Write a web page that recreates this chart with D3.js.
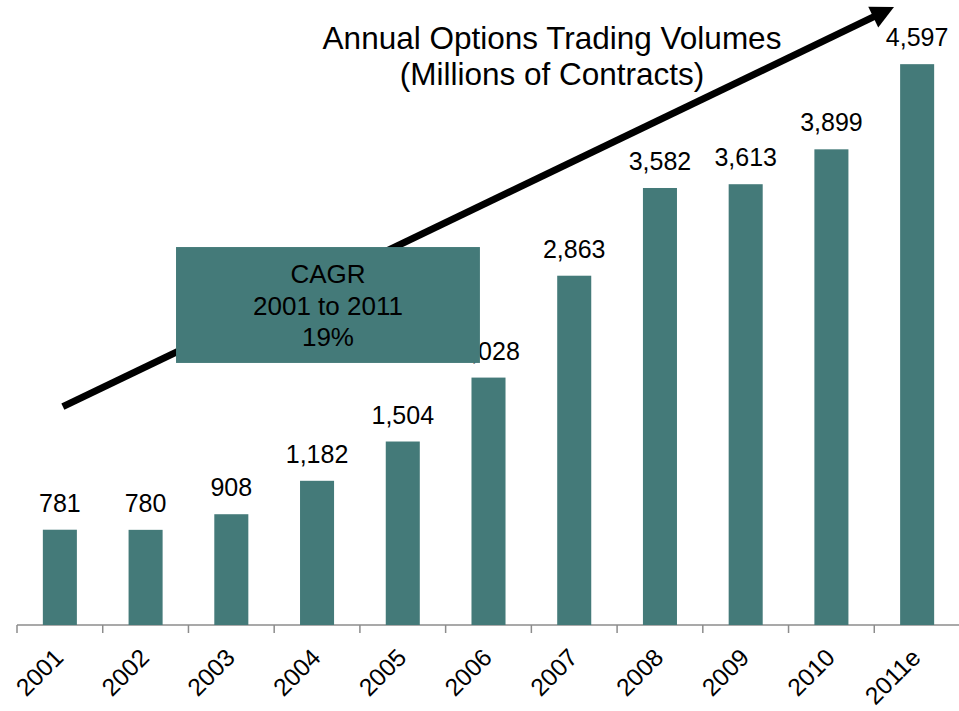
<!DOCTYPE html>
<html>
<head>
<meta charset="utf-8">
<script src="https://cdn.jsdelivr.net/npm/d3@7"></script>
<style>
  body { margin: 0; background: #fff; }
  svg { display: block; font-family: Arial, "Liberation Sans", sans-serif; }
</style>
</head>
<body>
<div id="chart"></div>
<script>
// Chart data
const years = ['2001', '2002', '2003', '2004', '2005', '2006', '2007', '2008', '2009', '2010', '2011e']
const volumes = [781, 780, 908, 1182, 1504, 2028, 2863, 3582, 3613, 3899, 4597]
const titleLines = ['Annual Options Trading Volumes', '(Millions of Contracts)']
const cagrLines = ['CAGR', '2001 to 2011', '19%']

// Annotation anchors, in category units (x) and contract volumes (y)
const arrowFrom = { pos: 0.535, value: 1790 }
const arrowTo = { pos: 10.23, value: 5065 }
const cagrBox = { pos0: 1.855, pos1: 5.4, value0: 3098, value1: 2148 }

const width = 959
const height = 711
const barColor = '#447a79'

const svg = d3.select('#chart')
  .append('svg')
  .attr('width', width)
  .attr('height', height)

// Scales
const x = d3.scaleBand()
  .domain(years)
  .range([17, 960])
  .paddingInner(0.603)
  .paddingOuter(0.3015)

const xPos = d3.scaleLinear()
  .domain([0, years.length])
  .range([17, 960])

const y = d3.scaleLinear()
  .domain([0, 5000])
  .range([625, 15])

// X axis with ticks between the categories
const axis = svg.append('g')
axis.append('line')
  .attr('x1', xPos(0))
  .attr('x2', xPos(years.length))
  .attr('y1', y(0))
  .attr('y2', y(0))
  .attr('stroke', '#8c8c8c')
  .attr('stroke-width', 1.5)
axis.selectAll('line.tick')
  .data(d3.range(years.length + 1))
  .join('line')
  .attr('class', 'tick')
  .attr('x1', d => xPos(d))
  .attr('x2', d => xPos(d))
  .attr('y1', y(0))
  .attr('y2', y(0) + 8)
  .attr('stroke', '#8c8c8c')
  .attr('stroke-width', 1.5)

axis.selectAll('text')
  .data(years)
  .join('text')
  .attr('transform', d => `translate(${x(d) + x.bandwidth() / 2 + 5},${y(0) + 34}) rotate(-45)`)
  .attr('text-anchor', 'end')
  .attr('font-size', 24.5)
  .attr('fill', '#000')
  .text(d => d)

// Bars
svg.selectAll('rect.bar')
  .data(volumes)
  .join('rect')
  .attr('class', 'bar')
  .attr('x', (d, i) => x(years[i]))
  .attr('y', d => y(d))
  .attr('width', x.bandwidth())
  .attr('height', d => y(0) - y(d))
  .attr('fill', barColor)

// Value labels
svg.selectAll('text.value')
  .data(volumes)
  .join('text')
  .attr('class', 'value')
  .attr('x', (d, i) => x(years[i]) + x.bandwidth() / 2)
  .attr('y', d => y(d) - 18)
  .attr('text-anchor', 'middle')
  .attr('font-size', 25)
  .attr('fill', '#000')
  .text(d => d3.format(',')(d))

// Title
svg.append('text')
  .attr('x', 552)
  .attr('y', 49)
  .attr('text-anchor', 'middle')
  .attr('font-size', 31.5)
  .attr('fill', '#000')
  .selectAll('tspan')
  .data(titleLines)
  .join('tspan')
  .attr('x', 552)
  .attr('dy', (d, i) => i === 0 ? 0 : 36)
  .text(d => d)

// Growth arrow
const x0 = xPos(arrowFrom.pos), y0 = y(arrowFrom.value)
const x1 = xPos(arrowTo.pos), y1 = y(arrowTo.value)
const len = Math.hypot(x1 - x0, y1 - y0)
const ux = (x1 - x0) / len, uy = (y1 - y0) / len
const headLen = 23, headHalf = 11.5
const bx = x1 - ux * headLen, by = y1 - uy * headLen

svg.append('line')
  .attr('x1', x0)
  .attr('y1', y0)
  .attr('x2', bx + ux * 2)
  .attr('y2', by + uy * 2)
  .attr('stroke', '#000')
  .attr('stroke-width', 7)

svg.append('path')
  .attr('d', d3.line()([
    [x1, y1],
    [bx - uy * headHalf, by + ux * headHalf],
    [bx + uy * headHalf, by - ux * headHalf]
  ]) + 'Z')
  .attr('fill', '#000')

// CAGR box
svg.append('rect')
  .attr('x', xPos(cagrBox.pos0))
  .attr('y', y(cagrBox.value0))
  .attr('width', xPos(cagrBox.pos1) - xPos(cagrBox.pos0))
  .attr('height', y(cagrBox.value1) - y(cagrBox.value0))
  .attr('fill', barColor)

const boxCx = (xPos(cagrBox.pos0) + xPos(cagrBox.pos1)) / 2
svg.append('text')
  .attr('text-anchor', 'middle')
  .attr('font-size', 26)
  .attr('fill', '#000')
  .selectAll('tspan')
  .data(cagrLines)
  .join('tspan')
  .attr('x', boxCx)
  .attr('y', (d, i) => y(cagrBox.value0) + 36 + i * 31.7)
  .text(d => d)
</script>
</body>
</html>
